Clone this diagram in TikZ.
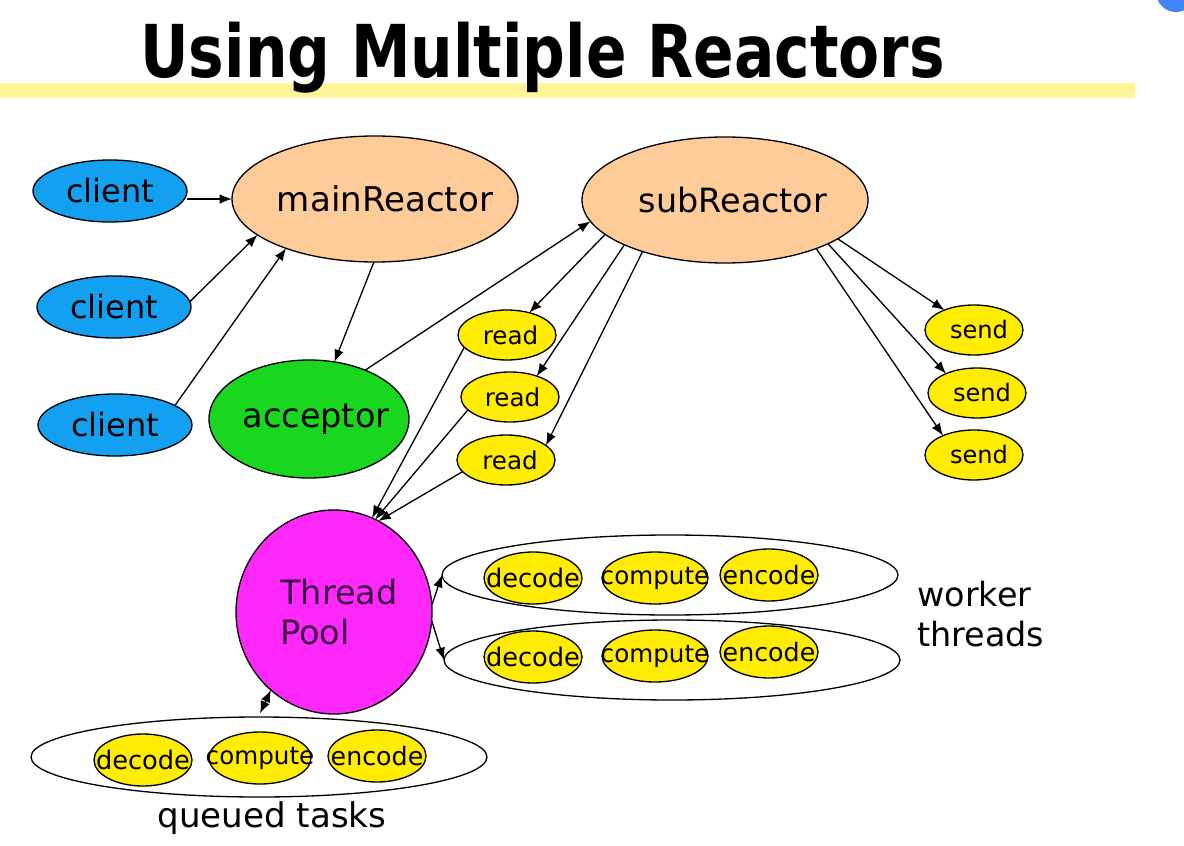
\documentclass[tikz,border=0pt]{standalone}
\usepackage{fontspec}
\setmainfont{DejaVu Sans}
\usetikzlibrary{arrows.meta,shapes.geometric}
\definecolor{cblue}{RGB}{20,160,240}
\definecolor{peach}{RGB}{255,204,153}
\definecolor{cgreen}{RGB}{25,215,30}
\definecolor{cyel}{RGB}{255,236,0}
\definecolor{cmag}{RGB}{255,40,250}
\definecolor{barY}{RGB}{255,244,150}
\definecolor{pooltxt}{RGB}{60,10,70}
\definecolor{gblue}{RGB}{66,133,244}
\begin{document}
\begin{tikzpicture}[x=0.2mm,y=-0.2mm,>={Latex[length=7pt,width=5.5pt]},
  sz/.style 2 args={minimum width={#1*0.2mm},minimum height={#2*0.2mm}},
  ell/.style={ellipse,draw=black,line width=0.75pt,inner sep=0pt,outer sep=0pt},
  lb/.style n args={3}{label={[font=\fontsize{#1}{#1}\selectfont,xshift=#2]center:#3}},
  client/.style={ell,fill=cblue,sz={154}{62}},
  reactor/.style={ell,fill=peach,sz={286}{126}},
  rs/.style={ell,fill=cyel,sz={98}{50}},
  task/.style={ell,fill=cyel,sz={#1}{52}},
  grp/.style={ell,fill=white,sz={456}{80}},
  arr/.style={->,line width=0.75pt},
]
\useasboundingbox (0,0) rectangle (1184,846);
\fill[white] (0,0) rectangle (1184,846);
\fill[barY] (0,83) rectangle (1135,98);
\fill[gblue] (1176,-8) circle[radius=20];
\node[anchor=base west,inner sep=0pt,font=\fontsize{41.5}{44}\selectfont\bfseries] (title) at (140,78) {\scalebox{0.82}[1]{Using Multiple Reactors}};

% clients and reactors
\node[client,lb={18.2}{0mm}{client}] (c1) at (110,191) {};
\node[client,lb={18.2}{0mm}{client}] (c2) at (114,307) {};
\node[client,lb={18.2}{0mm}{client}] (c3) at (115,425) {};
\node[reactor,lb={19.4}{2mm}{mainReactor}] (main) at (375,199) {};
\node[reactor,lb={19}{1.6mm}{subReactor}] (sub) at (725,200) {};
\node[ell,fill=cgreen,sz={200}{118},lb={19.1}{1.4mm}{acceptor}] (acc) at (309,419) {};

% read / send
\node[rs,lb={14}{0.7mm}{read}] (r1) at (507,335) {};
\node[rs,lb={14}{0.5mm}{read}] (r2) at (510,397) {};
\node[rs,lb={14}{0.8mm}{read}] (r3) at (506,460) {};
\node[rs,lb={13.7}{1mm}{send}] (s1) at (974,330) {};
\node[rs,lb={13.7}{1mm}{send}] (s2) at (977,393) {};
\node[rs,lb={13.7}{1mm}{send}] (s3) at (974,455) {};

% thread pool
\node[ell,fill=cmag,sz={196}{204}] (tp) at (334,612) {};
\node[font=\fontsize{19.1}{22.8}\selectfont,text=pooltxt,align=left,xshift=1mm] (tptext) at (tp.center) {Thread\\Pool};

% worker thread groups
\node[grp] (w1) at (670,575) {};
\node[grp] (w2) at (672,660) {};
\node[grp] (q) at (259,757) {};
\node[task=98,lb={14.6}{0mm}{decode}] (d1) at (533,578) {};
\node[task=106,lb={14}{0mm}{compute}] (m1) at (655,578) {};
\node[task=98,lb={14.4}{0mm}{encode}] (e1) at (769,575) {};
\node[task=98,lb={14.6}{0mm}{decode}] (d2) at (533,657) {};
\node[task=106,lb={14}{0mm}{compute}] (m2) at (655,656) {};
\node[task=98,lb={14.4}{0mm}{encode}] (e2) at (769,652) {};
\node[task=98,lb={14.6}{0mm}{decode}] (d3) at (143,760) {};
\node[task=102,lb={14}{0mm}{compute}] (m3) at (260,758) {};
\node[task=98,lb={14.4}{0mm}{encode}] (e3) at (377,756) {};

\node[font=\fontsize{19}{22.8}\selectfont,anchor=west,align=left,inner sep=0pt] (wt) at (917,614) {worker\\threads};
\node[font=\fontsize{19.4}{22}\selectfont,inner sep=0pt] (qt) at (272,818) {queued tasks};

% connectors
\draw[arr] (main.west -| c1.east) -- (main.west);
\draw[arr] (c2.4) -- (main.197);
\draw[arr] (c3.18) -- (main.209);
\draw[arr] (main.269) -- (acc.66);
\draw[arr] (acc.41) -- (sub.189);
\draw[arr] (sub.196) -- (r1.45);
\draw[arr] (sub.204) -- (r2.38);
\draw[arr] (sub.212) -- (r3.20);
\draw[arr] (sub.-19) -- (s1.146);
\draw[arr] (sub.-23) -- (s2.148);
\draw[arr] (sub.-28) -- (s3.148);
\draw[arr] (r1.196) -- (tp.68);
\draw[arr] (r2.197) -- (tp.66);
\draw[arr] (r3.195) -- (tp.64);
\draw[arr] (tp.4) -- (w1.west);
\draw[arr] (tp.-5) -- (w2.west);
\draw[<->,line width=0.75pt,shorten >=0.8mm] (tp.231) -- (q.91);
\end{tikzpicture}
\end{document}
